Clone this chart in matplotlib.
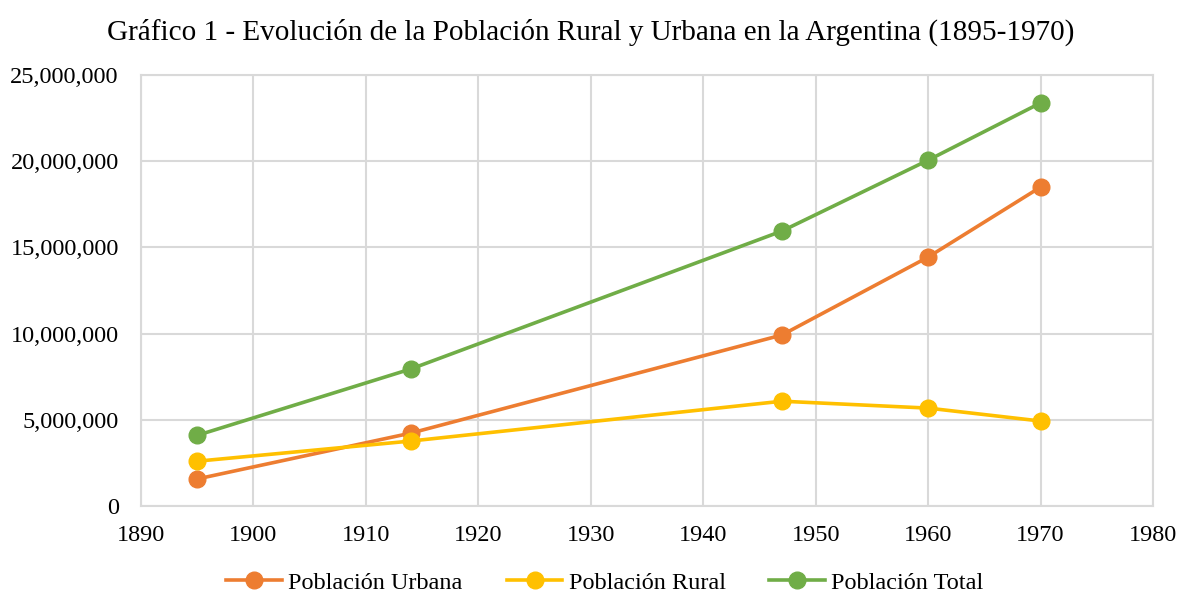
import matplotlib.pyplot as plt
from matplotlib.ticker import FuncFormatter

# datos censales (lectura del gráfico)
anios = [1895, 1914, 1947, 1960, 1970]
urbana = [1570000, 4230000, 9920000, 14440000, 18500000]
rural = [2600000, 3770000, 6080000, 5680000, 4930000]
total = [4100000, 7950000, 15950000, 20060000, 23380000]

series = [
    ("Población Urbana", urbana, "#ED7D31"),
    ("Población Rural", rural, "#FFC000"),
    ("Población Total", total, "#70AD47"),
]

plt.rcParams['font.family'] = ['Liberation Serif', 'DejaVu Serif']

fig = plt.figure(figsize=(11.81, 5.94), dpi=100)
ax = fig.add_axes([0.1194, 0.1481, 0.8569, 0.7256])

for nombre, valores, color in series:
    ax.plot(anios, valores, color=color, linewidth=2.6, marker='o',
            markersize=12, label=nombre, zorder=3)

ax.set_xlim(1890, 1980)
ax.set_ylim(0, 25000000)
ax.set_xticks(range(1890, 1981, 10))
ax.set_yticks(range(0, 25000001, 5000000))
ax.yaxis.set_major_formatter(FuncFormatter(lambda v, p: f"{int(v):,}"))

ax.grid(True, color="#D9D9D9", linewidth=1.5)
ax.set_axisbelow(True)
for s in ax.spines.values():
    s.set_color("#D9D9D9")
    s.set_linewidth(1.5)
ax.tick_params(length=0, labelsize=17.5)
ax.tick_params(axis='x', pad=14)
ax.tick_params(axis='y', pad=16)

fig.suptitle("Gráfico 1 - Evolución de la Población Rural y Urbana en la Argentina (1895-1970)",
             fontsize=21, y=0.968, va='top')

ax.legend(loc='upper center', bbox_to_anchor=(0.4585, -0.113), ncol=3, frameon=False,
          fontsize=17.5, handlelength=2.3, columnspacing=1.8, handletextpad=0.25,
          borderpad=0.2)

plt.savefig("out.png", dpi=100)
